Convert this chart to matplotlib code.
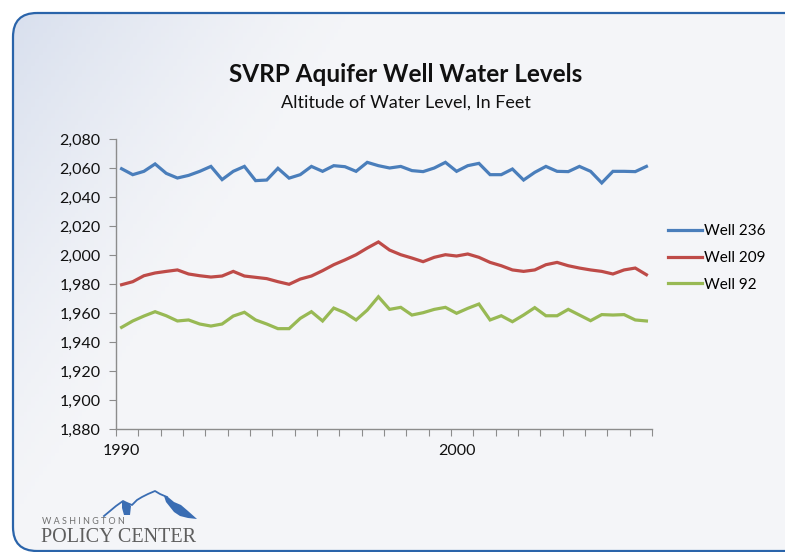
"""SVRP aquifer well water levels, recreated with matplotlib."""
import numpy as np
import matplotlib
matplotlib.use("Agg")
import matplotlib.pyplot as plt
from matplotlib.patches import FancyBboxPatch, Polygon

# three readings per year, 1990 through 2005
periods = np.arange(48)
year_labels = {0: "1990", 30: "2000"}

well_236 = [2059.5, 2055.4, 2057.7, 2062.8, 2056.3, 2053.1, 2054.9, 2057.7,
            2061.1, 2052.0, 2057.7, 2061.1, 2051.3, 2051.7, 2059.8, 2053.0,
            2055.4, 2061.1, 2057.7, 2061.6, 2060.9, 2057.7, 2063.9, 2061.6,
            2060.0, 2061.1, 2058.2, 2057.5, 2060.0, 2063.9, 2057.7, 2061.6,
            2063.2, 2055.4, 2055.4, 2059.3, 2051.7, 2057.0, 2061.1, 2057.7,
            2057.5, 2061.1, 2057.7, 2049.7, 2057.7, 2057.7, 2057.5, 2061.1]

well_209 = [1979.5, 1981.6, 1985.7, 1987.6, 1988.7, 1989.7, 1986.9, 1985.7,
            1984.8, 1985.5, 1988.7, 1985.5, 1984.6, 1983.7, 1981.6, 1979.8,
            1983.4, 1985.5, 1989.2, 1993.3, 1996.6, 2000.2, 2004.8, 2009.0,
            2003.4, 2000.2, 1997.9, 1995.4, 1998.4, 2000.2, 1999.3, 2000.7,
            1998.4, 1994.9, 1992.6, 1989.7, 1988.7, 1989.7, 1993.3, 1994.9,
            1992.6, 1991.0, 1989.7, 1988.7, 1986.9, 1989.7, 1991.0, 1986.4]

well_92 = [1950.1, 1954.5, 1957.9, 1960.9, 1958.1, 1954.5, 1955.2, 1952.4,
           1951.0, 1952.4, 1957.9, 1960.5, 1955.2, 1952.4, 1949.2, 1949.2,
           1956.3, 1960.9, 1954.5, 1963.4, 1960.2, 1955.2, 1962.0, 1971.2,
           1962.5, 1963.9, 1958.6, 1960.2, 1962.5, 1963.9, 1959.8, 1963.2,
           1966.2, 1955.2, 1958.1, 1954.0, 1958.6, 1963.7, 1958.1, 1958.1,
           1962.5, 1958.6, 1954.7, 1958.9, 1958.6, 1958.9, 1955.2, 1954.5]

series = [("Well 236", well_236, "#4a7ebb"),
          ("Well 209", well_209, "#be4b48"),
          ("Well 92", well_92, "#98b954")]

W, H = 785, 552
plt.rcParams["font.family"] = ["Lato", "DejaVu Sans"]

fig = plt.figure(figsize=(W / 100, H / 100), dpi=100)
fig.patch.set_facecolor("white")

# slide background: rounded panel with a soft gradient
bg = fig.add_axes([0, 0, 1, 1], zorder=-5)
bg.set_xlim(0, W)
bg.set_ylim(H, 0)
bg.axis("off")
panel = FancyBboxPatch((13, 13), 820, 538, boxstyle="round,pad=0,rounding_size=24",
                       ec="#2a64aa", fc="none", lw=1.6, zorder=2)
bg.add_patch(panel)
gx, gy = np.meshgrid(np.linspace(0, W, 200), np.linspace(0, H, 150))
shade = np.clip(1 - (gx / 360 + gy / 540), 0, 1) ** 1.3
base = np.array([0.957, 0.961, 0.973])
tint = np.array([0.84, 0.87, 0.93])
img = base + (tint - base) * shade[..., None]
im = bg.imshow(img, extent=(0, W, H, 0), aspect="auto", zorder=1)
im.set_clip_path(panel)

# logo: ridge line with two shaded faces
logo_blue = "#3a6db3"
ridge = [(104, 516), (110, 511), (116, 506), (123, 501), (127, 503), (132, 505),
         (137, 500), (142, 497), (148, 494), (155, 491), (160, 494), (167, 497)]
bg.plot(*zip(*ridge), color=logo_blue, lw=1.3, zorder=3,
        solid_joinstyle="round")
bg.add_patch(Polygon([(122, 501), (128, 503), (131, 506), (130, 515),
                      (124, 515), (122, 508)], closed=True, fc=logo_blue,
                     ec="none", zorder=3))
bg.add_patch(Polygon([(164, 496), (168, 497), (174, 502), (181, 505),
                      (188, 511), (197, 519), (188, 518), (180, 516),
                      (174, 512), (170, 507), (166, 502)], closed=True,
                     fc=logo_blue, ec="none", zorder=3))
bg.text(42, 522, "W A S H I N G T O N", fontsize=6.5, color="#707070",
        va="center", ha="left", zorder=3)
bg.text(41, 537, "POLICY CENTER", fontsize=14.5, color="#5e5e5e",
        family="Liberation Serif", va="center", ha="left", zorder=3)

# titles
fig.text(406 / W, 1 - 75 / H, "SVRP Aquifer Well Water Levels",
         fontsize=17.5, fontweight="bold", ha="center", va="center", color="#111111")
fig.text(406 / W, 1 - 103 / H, "Altitude of Water Level, In Feet",
         fontsize=13, ha="center", va="center", color="#111111")

ax = fig.add_axes([116 / W, 1 - 429 / H, (652 - 116) / W, (429 - 139) / H])
ax.patch.set_alpha(0)
for name, values, color in series:
    ax.plot(periods, values, color=color, lw=2.3, label=name,
            solid_joinstyle="miter")

ax.set_xlim(-0.5, len(periods) - 0.5)
ax.set_ylim(1880, 2080)
ax.set_yticks(np.arange(1880, 2081, 20))
ax.set_yticklabels([f"{v:,}" for v in range(1880, 2081, 20)])
ax.set_xticks(np.arange(-0.5, len(periods), 2))
ax.set_xticklabels([])
ax.set_xticks(list(year_labels), minor=True)
ax.set_xticklabels(list(year_labels.values()), minor=True)

for side in ("top", "right"):
    ax.spines[side].set_visible(False)
for side in ("left", "bottom"):
    ax.spines[side].set_color("#8c8c8c")
    ax.spines[side].set_linewidth(1.0)
ax.tick_params(axis="both", which="major", direction="out", length=5,
               color="#8c8c8c", labelsize=11.5, labelcolor="#111111")
ax.tick_params(axis="y", pad=6)
ax.tick_params(axis="x", which="minor", length=0, pad=11, labelsize=11.5,
               labelcolor="#111111")

ax.legend(loc="center left", bbox_to_anchor=(668 / W, 1 - 258 / H),
          bbox_transform=fig.transFigure, frameon=False, fontsize=11,
          handlelength=2.2, handletextpad=0.15, labelspacing=0.82,
          borderpad=0, borderaxespad=0)

fig.savefig("out.png", dpi=100)
